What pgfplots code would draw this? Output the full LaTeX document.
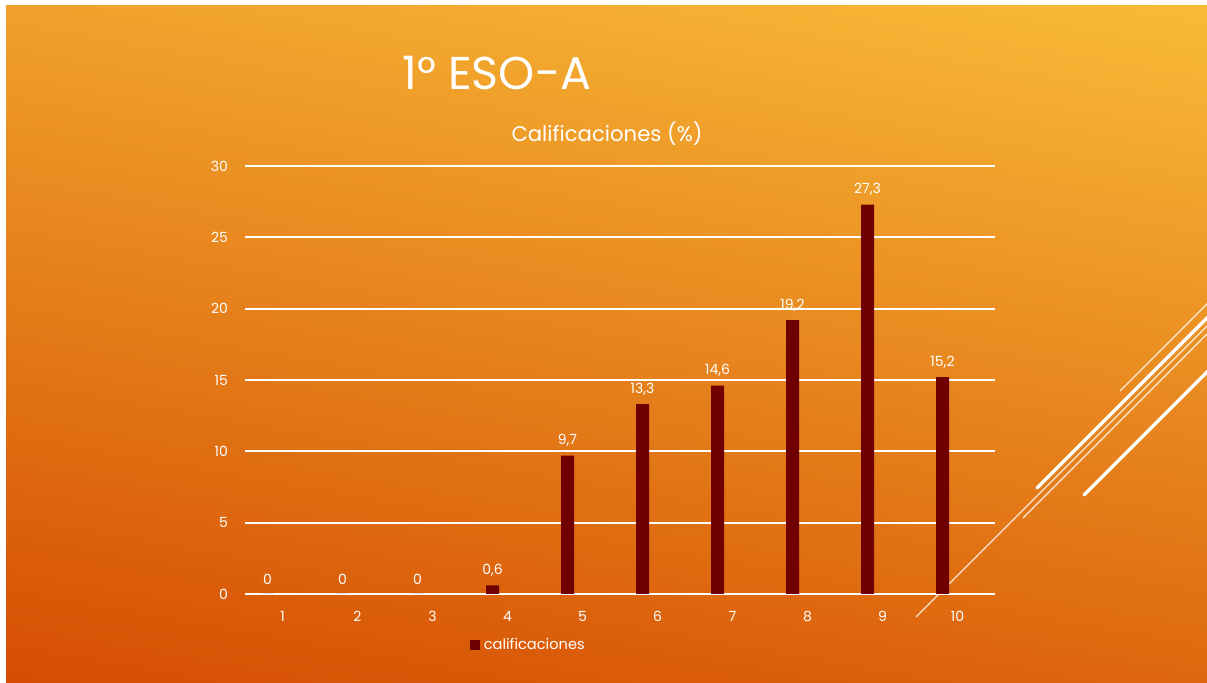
\documentclass[border=0pt]{standalone}
\usepackage{pgfplots}
\pgfplotsset{compat=1.18}
\usepackage{fontspec}
\setmainfont{Poppins}
\definecolor{barcolor}{HTML}{700000}
\definecolor{topc}{HTML}{FAC03A}
\definecolor{midc}{HTML}{EC8E22}
\definecolor{botc}{HTML}{D44800}
\begin{document}
\begin{tikzpicture}[x=0.5pt,y=-0.5pt]
\fill[white] (0,0) rectangle (1207,683);
\begin{scope}
\clip (6,6) rectangle (1210,686);
\shade[top color=topc, middle color=midc, bottom color=botc, shading angle=-10] (-100,-100) rectangle (1307,783);
\draw[white, opacity=0.8, line width=0.6pt] (916,617) -- (1240,293);
\draw[white, opacity=0.85, line width=0.6pt] (1023,518) -- (1240,301);
\draw[white, line width=1.6pt, line cap=round] (1037,488) -- (1240,285);
\draw[white, opacity=0.8, line width=0.6pt] (1120,391) -- (1240,271);
\draw[white, line width=1.6pt, line cap=round] (1084,495) -- (1240,339);
\end{scope}
\node[text=white, font=\fontsize{23}{26}\selectfont] at (497,73) {1° ESO-A};
\node[text=white, font=\fontsize{10.6}{12}\selectfont] at (607,134) {Calificaciones (\%)};
\begin{axis}[
  at={(122.5pt,-297pt)}, anchor=south west,
  scale only axis, width=375pt, height=214pt,
  xmin=0.5, xmax=10.5, ymin=0, ymax=30,
  xtick={1,...,10}, ytick={0,5,...,30},
  axis line style={draw=none},
  major tick length=0pt,
  ymajorgrids, grid style={white, line width=0.9pt},
  tick label style={font=\fontsize{7}{8}\selectfont, text=white},
  /pgf/number format/assume math mode=true,
  yticklabel style={xshift=-5pt},
  xticklabel style={yshift=-5pt},
  ybar, bar width=6.5pt, bar shift=-7.5pt,
  nodes near coords,
  nodes near coords style={font=\fontsize{7}{8}\selectfont, text=white, yshift=1pt,
    /pgf/number format/.cd, fixed, precision=1, use comma, assume math mode=true},
  legend style={at={(0.379,-0.119)}, anchor=center, draw=none, fill=none,
    font=\fontsize{7.3}{8}\selectfont, text=white, inner sep=0pt},
  legend image code/.code={\fill[barcolor] (0pt,-2.5pt) rectangle (5pt,2.5pt);},
]
\addplot[fill=barcolor, draw=none] coordinates {
(1,0) (2,0) (3,0) (4,0.6) (5,9.7) (6,13.3) (7,14.6) (8,19.2) (9,27.3) (10,15.2)};
\addlegendentry{calificaciones}
\end{axis}
\pgfresetboundingbox
\useasboundingbox (0,0) rectangle (1207,683);
\end{tikzpicture}
\end{document}
